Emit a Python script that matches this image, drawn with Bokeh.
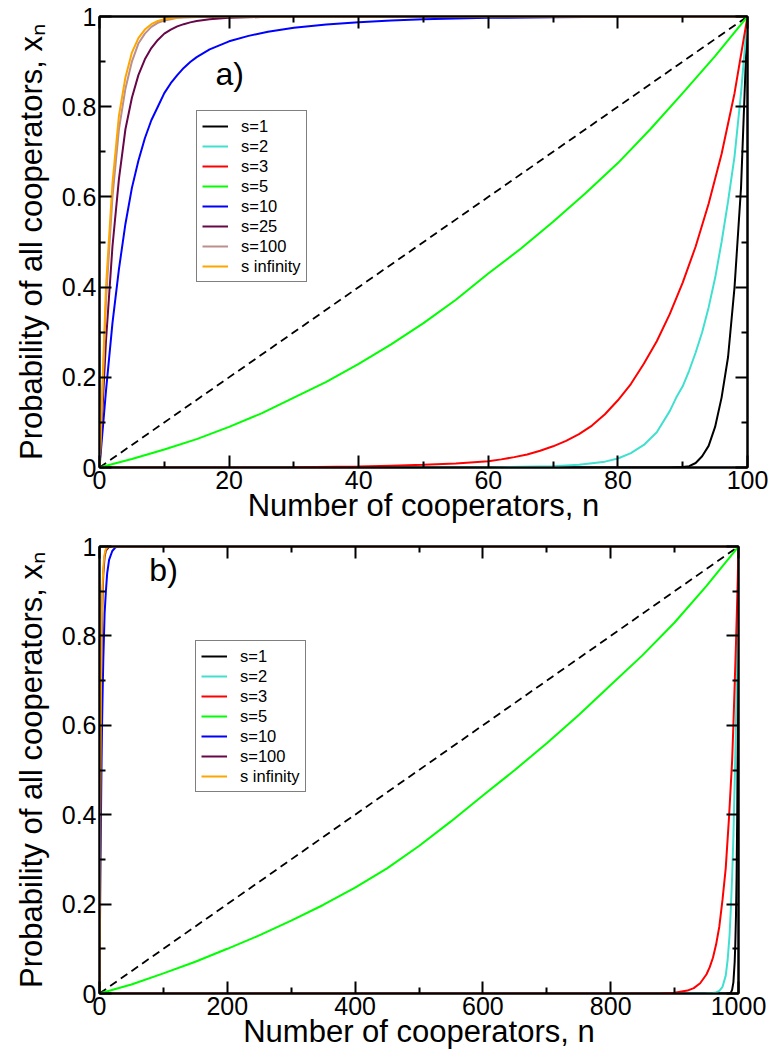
from bokeh.plotting import figure
from bokeh.models import Range1d, FixedTicker, LinearAxis, Legend, LegendItem, Label
from bokeh.layouts import column
from bokeh.embed import file_html
from bokeh.resources import INLINE

FONT = "Liberation Sans"

# ---------------- Panel a (N = 100) ----------------
a_diag_n = [0, 100]
a_diag_x = [0, 1]

a_s1_n = [0, 88, 90, 91, 92, 93, 94, 95, 96, 97, 98, 99, 100]
a_s1_x = [0, 0, 0.001, 0.003, 0.01, 0.025, 0.048, 0.09, 0.155, 0.245, 0.40, 0.62, 1.0]

a_s2_n = [0, 60, 70, 74, 78, 80, 82, 84, 86, 88, 89, 90, 91, 92, 93, 94, 95, 96, 97, 98, 99, 100]
a_s2_x = [0, 0, 0.003, 0.006, 0.013, 0.02, 0.032, 0.05, 0.078, 0.125, 0.155, 0.18, 0.215,
          0.255, 0.30, 0.355, 0.42, 0.50, 0.59, 0.69, 0.83, 1.0]

a_s3_n = [0, 20, 30, 40, 45, 50, 55, 60, 62, 64, 66, 68, 70, 72, 74, 76, 78, 80, 82, 84, 86,
          88, 90, 92, 94, 96, 98, 100]
a_s3_x = [0, 0, 0.0005, 0.002, 0.004, 0.006, 0.009, 0.014, 0.018, 0.023, 0.029, 0.037, 0.047,
          0.059, 0.074, 0.093, 0.118, 0.149, 0.185, 0.23, 0.28, 0.34, 0.41, 0.49, 0.585, 0.695,
          0.83, 1.0]

a_s5_n = [0, 5, 10, 15, 20, 25, 30, 35, 40, 45, 50, 55, 60, 65, 70, 75, 80, 85, 90, 95, 100]
a_s5_x = [0, 0.019, 0.04, 0.063, 0.09, 0.12, 0.155, 0.19, 0.23, 0.273, 0.32, 0.372, 0.43,
          0.485, 0.545, 0.608, 0.675, 0.75, 0.83, 0.912, 1.0]

a_s10_n = [0, 1, 2, 3, 4, 5, 6, 7, 8, 9, 10, 11, 12, 13, 14, 15, 17, 20, 23, 26, 30, 35, 40,
           45, 50, 60, 70, 80, 100]
a_s10_x = [0, 0.17, 0.32, 0.44, 0.54, 0.62, 0.68, 0.73, 0.77, 0.80, 0.83, 0.852, 0.87, 0.886,
           0.899, 0.91, 0.927, 0.945, 0.957, 0.966, 0.975, 0.982, 0.987, 0.991, 0.994, 0.997,
           0.9985, 0.9993, 1.0]

a_s25_n = [0, 1, 2, 3, 4, 5, 6, 7, 8, 9, 10, 11, 12, 13, 14, 15, 17, 20, 25, 30, 100]
a_s25_x = [0, 0.28, 0.49, 0.64, 0.75, 0.82, 0.87, 0.905, 0.93, 0.948, 0.962, 0.971, 0.978,
           0.983, 0.987, 0.99, 0.994, 0.997, 0.999, 1.0, 1.0]

a_s100_n = [0, 1, 2, 3, 4, 5, 6, 7, 8, 9, 10, 11, 12, 13, 15, 20, 100]
a_s100_x = [0, 0.37, 0.60, 0.75, 0.84, 0.90, 0.94, 0.962, 0.977, 0.986, 0.991, 0.994, 0.997,
            0.998, 0.999, 1.0, 1.0]

a_sinf_n = [0, 1, 2, 3, 4, 5, 6, 7, 8, 9, 10, 11, 12, 13, 15, 100]
a_sinf_x = [0, 0.40, 0.63, 0.78, 0.865, 0.92, 0.952, 0.971, 0.983, 0.99, 0.994, 0.996, 0.998,
            0.999, 1.0, 1.0]

# ---------------- Panel b (N = 1000) ----------------
b_diag_n = [0, 1000]
b_diag_x = [0, 1]

b_s1_n = [0, 985, 988, 990, 992, 994, 995, 996, 997, 998, 999, 1000]
b_s1_x = [0, 0, 0.002, 0.008, 0.025, 0.07, 0.11, 0.17, 0.26, 0.40, 0.62, 1.0]

b_s2_n = [0, 950, 960, 965, 970, 975, 980, 983, 986, 988, 990, 992, 994, 996, 998, 1000]
b_s2_x = [0, 0.0003, 0.001, 0.0025, 0.006, 0.015, 0.04, 0.075, 0.13, 0.19, 0.26, 0.35, 0.47,
          0.60, 0.78, 1.0]

b_s3_n = [0, 860, 880, 900, 920, 930, 940, 950, 955, 960, 965, 970, 975, 980, 985, 990, 992,
          994, 996, 998, 1000]
b_s3_x = [0, 0, 0.0005, 0.0018, 0.0065, 0.012, 0.023, 0.043, 0.059, 0.08, 0.11, 0.15, 0.21,
          0.28, 0.39, 0.52, 0.60, 0.69, 0.78, 0.88, 1.0]

b_s5_n = [0, 50, 100, 150, 200, 250, 300, 350, 400, 450, 500, 550, 600, 650, 700, 750, 800,
          850, 900, 950, 1000]
b_s5_x = [0, 0.02, 0.045, 0.071, 0.10, 0.13, 0.163, 0.198, 0.237, 0.28, 0.33, 0.385, 0.443,
          0.50, 0.56, 0.623, 0.69, 0.757, 0.83, 0.912, 1.0]

b_s10_n = [0, 1, 2, 3, 4, 5, 6, 7, 8, 10, 12, 15, 20, 25, 30, 1000]
b_s10_x = [0, 0.20, 0.36, 0.49, 0.60, 0.68, 0.75, 0.80, 0.85, 0.90, 0.94, 0.97, 0.99, 0.998,
           1.0, 1.0]

b_s100_n = [0, 1, 2, 3, 4, 5, 6, 8, 10, 15, 20, 1000]
b_s100_x = [0, 0.37, 0.60, 0.75, 0.84, 0.90, 0.94, 0.977, 0.991, 0.999, 1.0, 1.0]

b_sinf_n = [0, 1, 2, 3, 4, 5, 6, 7, 8, 9, 10, 12, 15, 1000]
b_sinf_x = [0, 0.40, 0.63, 0.78, 0.865, 0.92, 0.952, 0.971, 0.983, 0.99, 0.994, 0.998, 1.0, 1.0]

y_ticks = [0, 0.2, 0.4, 0.6, 0.8, 1]
y_minor = [0.1, 0.3, 0.5, 0.7, 0.9]
a_x_ticks = [0, 20, 40, 60, 80, 100]
a_x_minor = [10, 30, 50, 70, 90]
b_x_ticks = [0, 200, 400, 600, 800, 1000]
b_x_minor = [100, 300, 500, 700, 900]

C_BLACK = "#000000"
C_TURQ = "#40e0d0"
C_RED = "#ff0000"
C_GREEN = "#00ff00"
C_BLUE = "#0000ff"
C_MAROON = "#670748"
C_BROWN = "#bc8f8f"
C_ORANGE = "#ffa500"

X_LABEL = "Number of cooperators, n"
Y_LABEL = "Probability of all cooperators, x\u2099"


def style_axis(ax, ticks, minor, labels=True):
    ax.ticker = FixedTicker(ticks=ticks, minor_ticks=minor)
    ax.major_tick_in = 12
    ax.major_tick_out = 0
    ax.minor_tick_in = 6
    ax.minor_tick_out = 0
    ax.major_tick_line_width = 2
    ax.minor_tick_line_width = 2
    ax.major_tick_line_color = "black"
    ax.minor_tick_line_color = "black"
    ax.axis_line_width = 2
    ax.axis_line_color = "black"
    ax.major_label_text_font = FONT
    if labels:
        ax.major_label_text_color = "black"
        ax.major_label_text_font_size = "25px"
        ax.major_label_standoff = 3
        if max(ticks) == 1:
            ax.major_label_overrides = {0: "0", 1: "1"}
    else:
        ax.major_label_text_color = None
        ax.major_label_text_font_size = "1px"
        ax.major_label_standoff = 0
    ax.axis_label_text_font = FONT
    ax.axis_label_text_font_size = "31px"
    ax.axis_label_text_font_style = "normal"
    ax.axis_label_text_color = "black"


def make_panel(xmax, fw, fh, bl, br, bt, bb, xt, xm, series, leg_loc, tag, tag_xy):
    p = figure(frame_width=fw, frame_height=fh,
               min_border_left=bl, min_border_right=br,
               min_border_top=bt, min_border_bottom=bb,
               x_range=Range1d(0, xmax), y_range=Range1d(0, 1),
               output_backend="svg", toolbar_location=None)
    p.xgrid.visible = False
    p.ygrid.visible = False
    p.outline_line_color = "black"
    p.outline_line_width = 2
    p.background_fill_color = "white"
    p.border_fill_color = "white"

    style_axis(p.xaxis[0], xt, xm)
    style_axis(p.yaxis[0], y_ticks, y_minor)
    p.xaxis[0].axis_label = X_LABEL
    p.yaxis[0].axis_label = Y_LABEL
    p.xaxis[0].axis_label_standoff = -4
    p.yaxis[0].axis_label_standoff = 10

    top = LinearAxis()
    style_axis(top, xt, xm, labels=False)
    p.add_layout(top, "above")
    right = LinearAxis()
    style_axis(right, y_ticks, y_minor, labels=False)
    p.add_layout(right, "right")

    diag_n, diag_x = series[0]
    p.line(diag_n, diag_x, line_color="black", line_width=1.8, line_dash="8 5")

    items = []
    for (nn, xx, col, lab) in series[1:]:
        r = p.line(nn, xx, line_color=col, line_width=2)
        items.append(LegendItem(label=lab, renderers=[r]))

    leg = Legend(items=items, location=leg_loc)
    leg.border_line_color = "black"
    leg.border_line_width = 1
    leg.background_fill_color = "white"
    leg.background_fill_alpha = 1
    leg.label_text_font = FONT
    leg.label_text_font_size = "16.5px"
    leg.label_text_color = "black"
    leg.glyph_width = 26
    leg.glyph_height = 20
    leg.label_height = 20
    leg.label_standoff = 13
    leg.spacing = 0
    leg.padding = 5
    leg.margin = 0
    p.add_layout(leg)

    p.add_layout(Label(x=tag_xy[0], y=tag_xy[1], text=tag, text_font=FONT,
                       text_font_size="32px", text_color="black",
                       text_baseline="alphabetic", text_align="left"))
    return p


pa = make_panel(
    100, 648, 451, 98, 26, 16, 64, a_x_ticks, a_x_minor,
    [(a_diag_n, a_diag_x),
     (a_s1_n, a_s1_x, C_BLACK, "s=1"),
     (a_s2_n, a_s2_x, C_TURQ, "s=2"),
     (a_s3_n, a_s3_x, C_RED, "s=3"),
     (a_s5_n, a_s5_x, C_GREEN, "s=5"),
     (a_s10_n, a_s10_x, C_BLUE, "s=10"),
     (a_s25_n, a_s25_x, C_MAROON, "s=25"),
     (a_s100_n, a_s100_x, C_BROWN, "s=100"),
     (a_sinf_n, a_sinf_x, C_ORANGE, "s infinity")],
    (97, 185), "a)", (17.9, 0.872))

pb = make_panel(
    1000, 639, 447, 99, 34, 15, 68, b_x_ticks, b_x_minor,
    [(b_diag_n, b_diag_x),
     (b_s1_n, b_s1_x, C_BLACK, "s=1"),
     (b_s2_n, b_s2_x, C_TURQ, "s=2"),
     (b_s3_n, b_s3_x, C_RED, "s=3"),
     (b_s5_n, b_s5_x, C_GREEN, "s=5"),
     (b_s10_n, b_s10_x, C_BLUE, "s=10"),
     (b_s100_n, b_s100_x, C_MAROON, "s=100"),
     (b_sinf_n, b_sinf_x, C_ORANGE, "s infinity")],
    (96, 201), "b)", (78, 0.947))

layout = column(pa, pb, spacing=0)
open("out.html", "w").write(file_html(layout, INLINE))
